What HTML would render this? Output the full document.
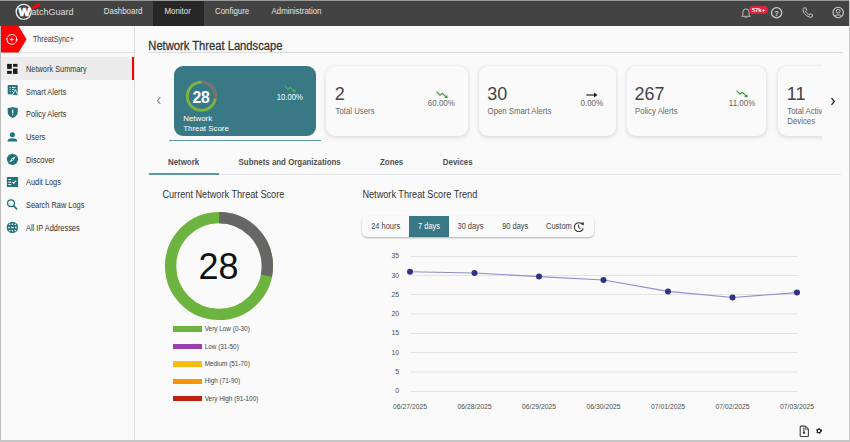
<!DOCTYPE html>
<html><head><meta charset="utf-8">
<style>
*{box-sizing:border-box;margin:0;padding:0}
html,body{width:850px;height:442px;overflow:hidden}
body{position:relative;background:#fafafa;font-family:"Liberation Sans",sans-serif;color:#333}
.a{position:absolute}
.t{position:absolute;white-space:nowrap;line-height:1}
.nav{position:absolute;top:7.4px;font-size:7.9px;color:#e4e4e4;line-height:1;white-space:nowrap;transform:scaleY(1.15);transform-origin:0 0}
.lbl{position:absolute;left:26px;font-size:7.4px;color:#333;line-height:1;white-space:nowrap;transform:scaleY(1.1);transform-origin:0 0}
.ic{position:absolute;left:6px}
.card{position:absolute;top:66px;height:69.5px;border-radius:9px;background:#fafafa;box-shadow:0 1px 3px 0.5px rgba(20,20,60,.08),0 2px 7px 1px rgba(30,30,80,.04)}
.num{position:absolute;top:85px;font-size:18px;color:#444;line-height:1;white-space:nowrap}
.lab{position:absolute;top:107.4px;font-size:7.8px;color:#666;line-height:1;white-space:nowrap;transform:scaleY(1.2);transform-origin:0 0}
.pct{position:absolute;top:99.3px;font-size:8px;color:#666;line-height:1;white-space:nowrap;transform:scaleY(1.15);transform-origin:0 0}
.tab{position:absolute;top:159.1px;font-size:7.9px;font-weight:bold;color:#505050;line-height:1;white-space:nowrap;transform:scaleY(1.08);transform-origin:0 0}
.lg{position:absolute;left:173.4px;width:28.8px;height:5.4px}
.lgt{position:absolute;left:204.7px;font-size:6.4px;color:#444;line-height:1;white-space:nowrap}
.btn{position:absolute;top:222.7px;font-size:7.45px;color:#444;line-height:1;white-space:nowrap;transform:scaleY(1.13);transform-origin:0 85%}
</style></head><body>

<!-- header -->
<div class="a" style="left:0;top:0;width:850px;height:26px;background:#434343"></div>
<div class="a" style="left:0;top:0;width:850px;height:1px;background:#9a9a9a"></div>
<div class="a" style="left:153px;top:1px;width:50.5px;height:25px;background:#272727"></div>
<svg class="a" style="left:0;top:0" width="90" height="26" viewBox="0 0 90 26">
  <circle cx="23.65" cy="11.85" r="7.5" fill="none" stroke="#e6e6e6" stroke-width="1.4"/>
  <text x="24.4" y="16.2" font-family="Liberation Sans" font-weight="bold" font-size="11.8" fill="#fff" stroke="#fff" stroke-width="0.7" stroke-linejoin="round" text-anchor="middle" transform="translate(24.4 0) scale(1.05 1) translate(-24.4 0)">W</text>
  <rect x="31.7" y="4.3" width="8.8" height="3.4" rx="1.7" fill="#fc0000" transform="rotate(-30 36.1 6)"/>
  <text x="31.6" y="15.2" font-family="Liberation Sans" font-size="9" fill="#dedede" transform="translate(0 15.2) scale(1 1.08) translate(0 -15.2)">atchGuard</text>
</svg>
<div class="nav" style="left:103.8px">Dashboard</div>
<div class="nav" style="left:164.5px">Monitor</div>
<div class="nav" style="left:215px">Configure</div>
<div class="nav" style="left:271.5px">Administration</div>
<!-- bell -->
<svg class="a" style="left:740.8px;top:6.8px" width="10" height="11.5" viewBox="0 0 10 11.5">
  <path d="M1.9 8.2 V5 a3.1 3.1 0 0 1 6.2 0 V8.2 L9.2 9.3 H0.8 Z" fill="none" stroke="#bdbdbd" stroke-width="1" stroke-linejoin="round"/>
  <path d="M3.9 10.3 a1.15 1.15 0 0 0 2.2 0" fill="none" stroke="#bdbdbd" stroke-width="0.9"/>
</svg>
<div class="a" style="left:748.7px;top:5.5px;width:19.4px;height:8.6px;border-radius:4.3px;background:#e0223a;color:#fff;font-size:6px;font-weight:bold;line-height:8.6px;text-align:center">57k+</div>
<!-- help -->
<svg class="a" style="left:770px;top:6px" width="13" height="13" viewBox="0 0 13 13">
  <circle cx="6.6" cy="6.7" r="5.1" fill="none" stroke="#cfcfcf" stroke-width="1.25"/>
  <text x="6.6" y="9.5" font-family="Liberation Sans" font-size="7.6" font-weight="bold" fill="#d4d4d4" text-anchor="middle">?</text>
</svg>
<!-- phone -->
<svg class="a" style="left:801.6px;top:6.9px" width="11.3" height="11.2" viewBox="0 0 24 23">
  <path d="M5 1.5 L8.3 1.5 L10 6.5 L7.6 8.5 C9 12 12 15 15.5 16.3 L17.5 14 L22 15.5 L22 19 C22 20.5 20.5 21.7 19 21.5 C10 20.5 3 13.5 2 5 C2 3 3.3 1.5 5 1.5 Z" fill="none" stroke="#cfcfcf" stroke-width="2" stroke-linejoin="round"/>
</svg>
<!-- user -->
<svg class="a" style="left:832px;top:6.2px" width="13" height="13" viewBox="0 0 13 13">
  <circle cx="6.2" cy="6.5" r="5.2" fill="none" stroke="#cfcfcf" stroke-width="1.1"/>
  <circle cx="6.2" cy="5.2" r="1.9" fill="none" stroke="#cfcfcf" stroke-width="1"/>
  <path d="M2.8 10.4 C3.5 8.4 8.9 8.4 9.6 10.4" fill="none" stroke="#cfcfcf" stroke-width="1"/>
</svg>

<!-- sidebar -->
<div class="a" style="left:0;top:26px;width:135px;height:416px;background:#f9f9f9;border-right:1px solid #dcdcdc"></div>
<div class="a" style="left:0;top:26px;width:134px;height:26.5px;background:#fbfbfb;border-bottom:1px solid #e2e2e2"></div>
<svg class="a" style="left:0;top:26px" width="28" height="27" viewBox="0 0 28 27">
  <path d="M0 0 H18.5 L26.6 13.2 L18.5 26.4 H0 Z" fill="#fc0202"/>
  <g transform="rotate(6 11.75 13.4)">
  <circle cx="11.75" cy="13.4" r="4.9" fill="none" stroke="#fff" stroke-width="0.95" stroke-dasharray="13 2.4" stroke-dashoffset="14.2"/>
  <circle cx="6.85" cy="13.4" r="0.95" fill="#fff"/><circle cx="16.65" cy="13.4" r="0.95" fill="#fff"/>
  </g>
  <path d="M11.75 11.4 V15.4 M9.75 13.4 H13.75" stroke="#fff" stroke-width="0.95"/>
</svg>
<div class="t" style="left:32.9px;top:35.2px;font-size:7.2px;color:#3a3a3a;transform:scaleY(1.2);transform-origin:0 0">ThreatSync+</div>

<div class="a" style="left:1px;top:57.4px;width:133px;height:22.7px;background:#ececec"></div>
<div class="a" style="left:132px;top:57.4px;width:2.3px;height:22.7px;background:#fb0000"></div>

<svg class="a" style="left:0;top:0" width="24" height="240" viewBox="0 0 24 240">
<g fill="#1c1c1c"><rect x="7.1" y="63.9" width="4.7" height="5"/><rect x="13" y="63.9" width="4.5" height="2.9"/><rect x="7.1" y="70.8" width="4.7" height="3.1"/><rect x="13" y="68.5" width="4.5" height="5.4"/></g>
<rect x="7.7" y="84.9" width="10" height="9.4" rx="1" fill="#22717b"/>
<path d="M9.6 87.4h1M11.9 87.4h3.6M9.6 89.4h1M11.9 89.4h2.2M9.6 91.6h1M11.9 91.6h1" stroke="#fff" stroke-width="0.95"/>
<path d="M15.3 89.6 L18.4 95.6 H12.2 Z" fill="#22717b" stroke="#f9f9f9" stroke-width="0.9" stroke-linejoin="round"/>
<path d="M12.7 106.9 C14.5 107.6 16 107.9 17.7 108 V112 C17.7 115 15.5 117 12.7 117.9 C9.9 117 7.7 115 7.7 112 V108 C9.4 107.9 10.9 107.6 12.7 106.9 Z" fill="#22717b"/>
<path d="M12.7 109.5 V113.2" stroke="#fff" stroke-width="1.2"/><circle cx="12.7" cy="114.7" r="0.65" fill="#fff"/>
<circle cx="12.4" cy="134.7" r="2.5" fill="#22717b"/>
<path d="M7.7 141.5 V140.6 C7.7 137.6 17.1 137.6 17.1 140.6 V141.5 Z" fill="#22717b"/>
<circle cx="12.5" cy="159.3" r="5.6" fill="#22717b"/>
<path d="M15.7 156.2 L13.3 160.3 L9.2 162.5 L11.6 158.4 Z" fill="#fff"/><circle cx="12.45" cy="159.35" r="0.7" fill="#22717b"/>
<rect x="6.9" y="177.1" width="11.2" height="9.8" rx="0.6" fill="#22717b"/>
<path d="M8.3 179.6h2.9M8.3 182.3h2.9M8.3 184.6h2.9" stroke="#fff" stroke-width="0.95"/>
<path d="M12.5 182 L13.7 183.2 L16.1 180.6" fill="none" stroke="#fff" stroke-width="1.25"/>
<circle cx="11" cy="203.3" r="3.4" fill="none" stroke="#22717b" stroke-width="1.3"/>
<path d="M13.6 205.9 L16.7 209" stroke="#22717b" stroke-width="1.6" stroke-linecap="round"/>
<circle cx="12.4" cy="227.4" r="5.7" fill="#22717b"/>
<g fill="#fff"><rect x="8.9" y="223.7" width="1.4" height="1.2"/><rect x="11.7" y="223.5" width="1.4" height="1.3"/><rect x="14.5" y="223.7" width="1.4" height="1.2"/>
<rect x="8.2" y="226.8" width="1.5" height="1.5"/><rect x="11.2" y="226.8" width="2.4" height="1.5"/><rect x="15.1" y="226.8" width="1.5" height="1.5"/>
<rect x="8.9" y="230" width="1.4" height="1.2"/><rect x="11.7" y="230.1" width="1.4" height="1.3"/><rect x="14.5" y="230" width="1.4" height="1.2"/></g>
</svg>
<div class="lbl" style="top:65.1px">Network Summary</div>
<div class="lbl" style="top:87.75px">Smart Alerts</div>
<div class="lbl" style="top:110.4px">Policy Alerts</div>
<div class="lbl" style="top:133.05px">Users</div>
<div class="lbl" style="top:155.7px">Discover</div>
<div class="lbl" style="top:178.35px">Audit Logs</div>
<div class="lbl" style="top:201px">Search Raw Logs</div>
<div class="lbl" style="top:223.65px">All IP Addresses</div>

<!-- main -->
<div class="t" style="left:148.3px;top:39.7px;font-size:11.2px;color:#333;-webkit-text-stroke:0.25px #333;transform:scaleY(1.075);transform-origin:0 0">Network Threat Landscape</div>
<div class="a" style="left:148px;top:52px;width:695px;height:1px;background:#dcdcdc"></div>

<!-- carousel arrows -->
<svg class="a" style="left:154.6px;top:96px" width="8" height="9" viewBox="0 0 8 9"><path d="M5.3 1.2 L2.5 4.5 L5.3 7.8" fill="none" stroke="#808080" stroke-width="1.1"/></svg>
<svg class="a" style="left:828.5px;top:96.5px" width="8" height="9" viewBox="0 0 8 9"><path d="M2.5 1.2 L5.3 4.5 L2.5 7.8" fill="none" stroke="#222" stroke-width="1.3"/></svg>

<!-- card 1 -->
<div class="card" style="left:173.5px;width:142.5px;background:#397985;box-shadow:none"></div>
<svg class="a" style="left:185px;top:79.6px" width="33" height="33" viewBox="0 0 33 33">
  <circle cx="16.4" cy="16.2" r="14.1" fill="none" stroke="#7cb342" stroke-width="2.9"/>
  <circle cx="16.4" cy="16.2" r="14.1" fill="none" stroke="#7a6e6e" stroke-width="2.9" stroke-dasharray="24.6 100" transform="rotate(-90 16.4 16.2)"/>
</svg>
<div class="t" style="left:192.4px;top:90px;font-size:15.8px;font-weight:bold;color:#fff;letter-spacing:-0.3px">28</div>
<div class="t" style="left:183.2px;top:114.3px;font-size:7.9px;color:#fff;line-height:9.6px">Network<br>Threat Score</div>
<svg class="a" style="left:283.5px;top:84.5px" width="13" height="9" viewBox="0 0 13 9"><path d="M0.6 0.6 L4 4.2 L6.3 2.3 L10 5.9" fill="none" stroke="#4cb648" stroke-width="1.1"/><path d="M8.1 7 L11.6 7.3 L11.3 3.9 Z" fill="#4cb648"/></svg>
<div class="t" style="left:276.8px;top:92.9px;font-size:7.7px;color:#fff;transform:scaleY(1.1);transform-origin:0 0">10.00%</div>
<div class="a" style="left:169px;top:139.6px;width:151.5px;height:1.2px;background:#5c9aa5"></div>

<!-- card 2 -->
<div class="card" style="left:325.5px;width:142px"></div>
<div class="num" style="left:334.8px">2</div><div class="lab" style="left:335.6px">Total Users</div>
<svg class="a" style="left:435.5px;top:90.5px" width="13" height="9" viewBox="0 0 13 9"><path d="M0.6 0.6 L4 4.2 L6.3 2.3 L10 5.9" fill="none" stroke="#3a9a3e" stroke-width="1.1"/><path d="M8.1 7 L11.6 7.3 L11.3 3.9 Z" fill="#3a9a3e"/></svg>
<div class="pct" style="left:427.8px">60.00%</div>
<!-- card 3 -->
<div class="card" style="left:478.6px;width:137.2px"></div>
<div class="num" style="left:487.3px">30</div><div class="lab" style="left:487.6px">Open Smart Alerts</div>
<svg class="a" style="left:585.5px;top:92px" width="12" height="6" viewBox="0 0 12 6"><path d="M0.3 3 H9" stroke="#222" stroke-width="1.2"/><path d="M8 0.6 L11.6 3 L8 5.4 Z" fill="#222"/></svg>
<div class="pct" style="left:580.5px">0.00%</div>
<!-- card 4 -->
<div class="card" style="left:626.5px;width:139.5px"></div>
<div class="num" style="left:634.6px">267</div><div class="lab" style="left:635.1px">Policy Alerts</div>
<svg class="a" style="left:735.5px;top:90px" width="13" height="9" viewBox="0 0 13 9"><path d="M0.6 0.6 L4 4.2 L6.3 2.3 L10 5.9" fill="none" stroke="#3a9a3e" stroke-width="1.1"/><path d="M8.1 7 L11.6 7.3 L11.3 3.9 Z" fill="#3a9a3e"/></svg>
<div class="pct" style="left:728.8px">11.00%</div>
<!-- card 5 clipped -->
<div class="a" style="left:772px;top:60px;width:50px;height:82px;overflow:hidden">
  <div class="card" style="left:5.5px;top:6px;width:142px"></div>
  <div class="num" style="left:14.8px;top:25.2px">11</div>
  <div class="lab" style="left:15.3px;top:47.4px;line-height:7.6px">Total Active<br>Devices</div>
</div>

<!-- tabs -->
<div class="tab" style="left:168px">Network</div>
<div class="tab" style="left:238.6px">Subnets and Organizations</div>
<div class="tab" style="left:380px">Zones</div>
<div class="tab" style="left:442.8px">Devices</div>
<div class="a" style="left:148px;top:174px;width:692.5px;height:1px;background:#e6e6e6"></div>
<div class="a" style="left:148.5px;top:173px;width:70.5px;height:2px;background:#5b9aa4"></div>

<!-- section titles -->
<div class="t" style="left:162.4px;top:189.5px;font-size:9.17px;color:#333;transform:scaleY(1.12);transform-origin:0 0">Current Network Threat Score</div>
<div class="t" style="left:362.4px;top:189.5px;font-size:9.17px;color:#333;transform:scaleY(1.12);transform-origin:0 0">Network Threat Score Trend</div>

<!-- donut -->
<svg class="a" style="left:160px;top:207px" width="118" height="118" viewBox="0 0 118 118">
  <circle cx="59" cy="59" r="48.4" fill="none" stroke="#6db33f" stroke-width="11.3"/>
  <circle cx="59" cy="59" r="48.4" fill="none" stroke="#666" stroke-width="11.3" stroke-dasharray="85.5 400" transform="rotate(-90 59 59)"/>
</svg>
<div class="t" style="left:198.4px;top:249.4px;font-size:36px;color:#111">28</div>

<!-- legend -->
<div class="lg" style="top:326.4px;background:#6db33f"></div><div class="lgt" style="top:326.2px">Very Low (0-30)</div>
<div class="lg" style="top:343.8px;background:#9c3fb0"></div><div class="lgt" style="top:343.6px">Low (31-50)</div>
<div class="lg" style="top:361.2px;background:#f9bd12"></div><div class="lgt" style="top:361.0px">Medium (51-70)</div>
<div class="lg" style="top:378.6px;background:#f8930a"></div><div class="lgt" style="top:378.4px">High (71-90)</div>
<div class="lg" style="top:396.0px;background:#c0200e"></div><div class="lgt" style="top:395.8px">Very High (91-100)</div>

<!-- time range buttons -->
<div class="a" style="left:362px;top:216px;width:232px;height:21px;border-radius:5px;background:#fafafa;box-shadow:0 1px 2px rgba(0,0,0,.3)"></div>
<div class="a" style="left:409.1px;top:216px;width:39.8px;height:21px;background:#397985"></div>
<div class="btn" style="left:371.2px">24 hours</div>
<div class="btn" style="left:418.1px;color:#fff">7 days</div>
<div class="btn" style="left:457.5px">30 days</div>
<div class="btn" style="left:502.2px">90 days</div>
<div class="btn" style="left:546.1px">Custom</div>
<svg class="a" style="left:572.7px;top:221.7px" width="12" height="10.5" viewBox="0 0 12 10.5"><path d="M9.8 3 A4.5 4.5 0 1 0 10.2 6.4" fill="none" stroke="#333" stroke-width="1.1"/><path d="M5.6 2.6 V5.5 L7.6 6.7" fill="none" stroke="#333" stroke-width="1"/><path d="M8.2 0.6 L10.9 0.6 L10.7 3.6 Z" fill="#333"/></svg>

<!-- line chart -->
<svg class="a" style="left:360px;top:245px" width="470" height="175" viewBox="360 245 470 175" font-family="Liberation Sans" font-size="6.8" fill="#4d4d4d">
  <g stroke="#e3e3e3" stroke-width="1">
    <path d="M410 256.5H798M410 275.5H798M410 294.5H798M410 314H798M410 333.5H798M410 352.5H798M410 372H798M410 391.5H798"/>
  </g>
  <g text-anchor="end">
    <text x="399" y="258.3">35</text><text x="399" y="277.5">30</text><text x="399" y="296.8">25</text><text x="399" y="316.1">20</text>
    <text x="399" y="335.3">15</text><text x="399" y="354.6">10</text><text x="399" y="373.9">5</text><text x="399" y="393.1">0</text>
  </g>
  <g text-anchor="middle">
    <text x="410" y="408.8">06/27/2025</text><text x="474.5" y="408.8">06/28/2025</text><text x="539" y="408.8">06/29/2025</text>
    <text x="603.5" y="408.8">06/30/2025</text><text x="668" y="408.8">07/01/2025</text><text x="732.5" y="408.8">07/02/2025</text>
    <text x="797" y="408.8">07/03/2025</text>
  </g>
  <polyline points="410,271.8 474.5,273 539,276.6 603.5,280 668,291.4 732.5,297.5 797,292.6" fill="none" stroke="#8f8fcc" stroke-width="1.1"/>
  <g fill="#2e3383">
    <circle cx="410" cy="271.8" r="3"/><circle cx="474.5" cy="273" r="3"/><circle cx="539" cy="276.6" r="3"/>
    <circle cx="603.5" cy="280" r="3"/><circle cx="668" cy="291.4" r="3"/><circle cx="732.5" cy="297.5" r="3"/>
    <circle cx="797" cy="292.6" r="3"/>
  </g>
</svg>

<!-- bottom icons -->
<svg class="a" style="left:799px;top:424.5px" width="11" height="12.5" viewBox="0 0 11 12.5">
  <path d="M2 1.1 H6.3 L9.4 4.2 V10.7 Q9.4 11.5 8.6 11.5 H2 Q1.2 11.5 1.2 10.7 V1.9 Q1.2 1.1 2 1.1 Z" fill="none" stroke="#444" stroke-width="1.15" stroke-linejoin="round"/>
  <path d="M6.2 1.2 V4.3 H9.3 Z" fill="#bbb" stroke="#444" stroke-width="0.6"/>
  <path d="M4.9 2.4 V7" stroke="#444" stroke-width="1"/><circle cx="5" cy="7.7" r="1.25" fill="#444"/>
</svg>
<svg class="a" style="left:815px;top:427.3px" width="8" height="8" viewBox="0 0 8 8">
  <circle cx="4" cy="3.9" r="2.35" fill="none" stroke="#222" stroke-width="1.3" stroke-dasharray="1.25 1.21" transform="rotate(-12 4 3.9)"/>
  <circle cx="4" cy="3.9" r="1.7" fill="none" stroke="#222" stroke-width="1.05"/>
</svg>
<!-- outer borders -->
<div class="a" style="left:0;top:26px;width:1px;height:416px;background:#bdbdbd"></div>
<div class="a" style="left:848.5px;top:0;width:1.5px;height:442px;background:#c4c4c4"></div>
<div class="a" style="left:0;top:440.3px;width:850px;height:1.7px;background:#c6c6c6"></div>
</body></html>
